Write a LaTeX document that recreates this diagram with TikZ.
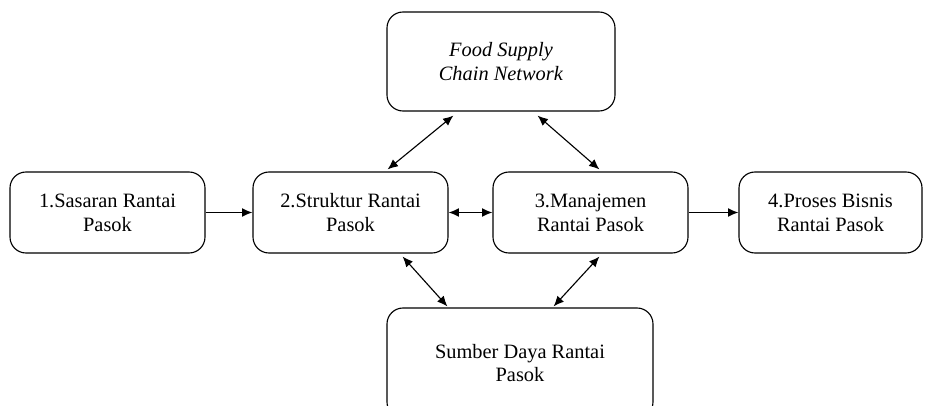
\documentclass[tikz,border=0pt]{standalone}
\usepackage{fontspec}
\setmainfont{Liberation Serif}
\usetikzlibrary{positioning,arrows.meta}

\begin{document}
\begin{tikzpicture}[
  block/.style={draw, line width=0.8pt, rounded corners=0.4cm, align=center,
    font=\fontsize{14.5}{17}\selectfont, inner sep=0pt},
  link/.style={line width=0.8pt, {Latex[length=2.6mm,width=2.2mm]}-{Latex[length=2.6mm,width=2.2mm]}},
  onelink/.style={line width=0.8pt, -{Latex[length=2.6mm,width=2.2mm]}}
]
\useasboundingbox (0,0) rectangle (23.125,10.125);

\node[block, minimum width=5.7cm, minimum height=2.475cm] (fscn) at (12.525, 8.5875) {\textit{Food Supply}\\\textit{Chain Network}};

\node[block, minimum width=4.875cm, minimum height=2.025cm] (sasaran) at (2.6875, 4.8125) {1.Sasaran Rantai\\Pasok};
\node[block, minimum width=4.875cm, minimum height=2.025cm] (struktur) at (8.7625, 4.8125) {2.Struktur Rantai\\Pasok};
\node[block, minimum width=4.875cm, minimum height=2.025cm] (manajemen) at (14.7625, 4.8125) {3.Manajemen\\Rantai Pasok};
\node[block, minimum width=4.575cm, minimum height=2.025cm] (proses) at (20.7625, 4.8125) {4.Proses Bisnis\\Rantai Pasok};

\node[block, minimum width=6.65cm, minimum height=2.75cm] (sumber) at (13.0, 1.05) {Sumber Daya Rantai\\Pasok};

\draw[onelink] (sasaran) -- (struktur);
\draw[link] (struktur) -- (manajemen);
\draw[onelink] (manajemen) -- (proses);

\draw[link] ([xshift=1.675cm, yshift=-0.1cm]fscn.south west) -- ([xshift=-1.525cm, yshift=0.05cm]struktur.north east);
\draw[link] ([xshift=-1.95cm, yshift=-0.1cm]fscn.south east) -- ([xshift=2.675cm, yshift=0.05cm]manajemen.north west);
\draw[link] ([xshift=-1.15cm, yshift=-0.075cm]struktur.south east) -- ([xshift=1.525cm, yshift=0.025cm]sumber.north west);
\draw[link] ([xshift=2.675cm, yshift=-0.075cm]manajemen.south west) -- ([xshift=-2.5cm, yshift=0.025cm]sumber.north east);

\end{tikzpicture}
\end{document}
